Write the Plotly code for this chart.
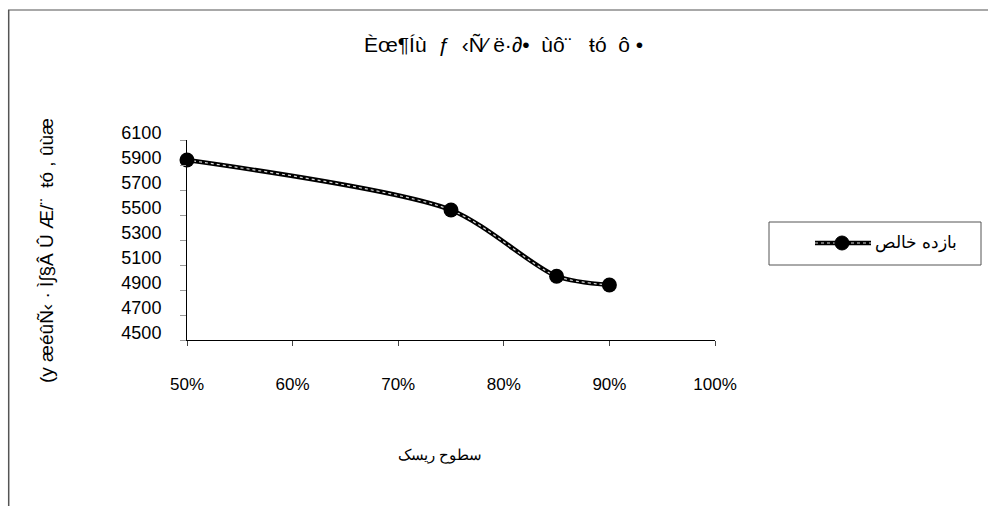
import plotly.graph_objects as go

# Data
risk_levels = [0.50, 0.75, 0.85, 0.90]
net_return = [5940, 5540, 5010, 4940]
series_name = "بازده خالص"
title_text = "Èœ¶Íù  ƒ  ‹Ñ⁄ ë·∂•  ùô¨   ŧó  ô •"
y_title = "(y æéûÑ‹ · Ì∫§Â Û Æ/¨  ŧó , ûùæ"
x_title = "سطوح ریسک"
y_ticks = [4500, 4700, 4900, 5100, 5300, 5500, 5700, 5900, 6100]
x_ticks = [0.5, 0.6, 0.7, 0.8, 0.9, 1.0]

# body margin removed by post_script -> figure pixels == screen pixels
W, H = 988, 506
SL, SR, ST, SB = 187, 715, 140, 340  # plot area in screen pixels
L, R, T, B = SL, W - SR, ST, H - SB
FONT = "Liberation Sans, Arial, sans-serif"

plot_w = SR - SL
plot_h = SB - ST


def fx(p):  # screen pixel x -> paper x
    return (p - SL) / plot_w


def fy(p):  # screen pixel y -> paper y
    return (SB - p) / plot_h


SMOOTH = 0.75

fig = go.Figure()
fig.add_trace(go.Scatter(
    x=risk_levels, y=net_return, mode="lines", name=series_name,
    line=dict(color="black", width=4.5, shape="spline", smoothing=SMOOTH),
    showlegend=False, cliponaxis=False))
fig.add_trace(go.Scatter(
    x=risk_levels, y=net_return, mode="lines",
    line=dict(color="#d8d8d8", width=1.2, shape="spline", smoothing=SMOOTH, dash="dot"),
    showlegend=False, hoverinfo="skip", cliponaxis=False))
fig.add_trace(go.Scatter(
    x=risk_levels, y=net_return, mode="markers",
    marker=dict(color="black", size=15, symbol="circle"),
    showlegend=False, cliponaxis=False))

shapes = [
    dict(type="line", xref="paper", yref="paper", x0=fx(8), x1=fx(988), y0=fy(10), y1=fy(10),
         line=dict(color="#a8a8a8", width=2)),
    dict(type="line", xref="paper", yref="paper", x0=fx(8.7), x1=fx(8.7), y0=fy(10), y1=fy(506),
         line=dict(color="#555555", width=1.5)),
    # legend box
    dict(type="rect", xref="paper", yref="paper", x0=fx(769), x1=fx(981), y0=fy(222), y1=fy(265),
         line=dict(color="#555555", width=1), fillcolor="white"),
    # legend sample line
    dict(type="line", xref="paper", yref="paper", x0=fx(815), x1=fx(871), y0=fy(243), y1=fy(243),
         line=dict(color="black", width=4.5)),
    dict(type="line", xref="paper", yref="paper", x0=fx(815), x1=fx(871), y0=fy(243), y1=fy(243),
         line=dict(color="#d8d8d8", width=1.2, dash="dot")),
    dict(type="circle", xref="paper", yref="paper", x0=fx(835), x1=fx(849), y0=fy(236), y1=fy(250),
         line=dict(color="black", width=1), fillcolor="black"),
]

annotations = [
    dict(text=title_text, xref="paper", yref="paper", x=fx(503), y=fy(45), showarrow=False,
         font=dict(family=FONT, size=21, color="black"), xanchor="center", yanchor="middle"),
    dict(text=y_title, xref="paper", yref="paper", x=fx(47), y=fy(251), showarrow=False,
         textangle=-90, font=dict(family=FONT, size=19, color="black"), xanchor="center", yanchor="middle"),
    dict(text=x_title, xref="paper", yref="paper", x=fx(440), y=fy(455), showarrow=False,
         font=dict(family=FONT, size=15, color="black"), xanchor="center", yanchor="middle"),
    dict(text=series_name, xref="paper", yref="paper", x=fx(916), y=fy(243), showarrow=False,
         font=dict(family=FONT, size=17, color="black"), xanchor="center", yanchor="middle"),
]

fig.update_layout(
    width=W, height=H, margin=dict(l=L, r=R, t=T, b=B, pad=0),
    paper_bgcolor="white", plot_bgcolor="white",
    font=dict(family=FONT, size=17, color="black"),
    shapes=shapes, annotations=annotations, showlegend=False,
)
fig.update_xaxes(range=[0.5, 1.0], tickvals=x_ticks, tickformat=".0%",
                 showgrid=False, zeroline=False, showline=True, linecolor="black", linewidth=1,
                 ticks="outside", ticklen=5, tickcolor="#444444", ticklabelstandoff=24,
                 tickfont=dict(family=FONT, size=17, color="black"))
fig.update_yaxes(range=[4500, 6100], tickvals=y_ticks,
                 showgrid=False, zeroline=False, showline=True, linecolor="black", linewidth=1,
                 ticks="outside", ticklen=6, tickcolor="#999999", ticklabelstandoff=15,
                 ticklabelshift=-7,
                 tickfont=dict(family=FONT, size=18, color="black"))

fig.write_html(
    "out.html",
    config={"displayModeBar": False},
    post_script=("document.documentElement.style.margin='0';document.body.style.margin='0';"
                 "document.documentElement.style.overflow='hidden';document.body.style.overflow='hidden';"),
)
